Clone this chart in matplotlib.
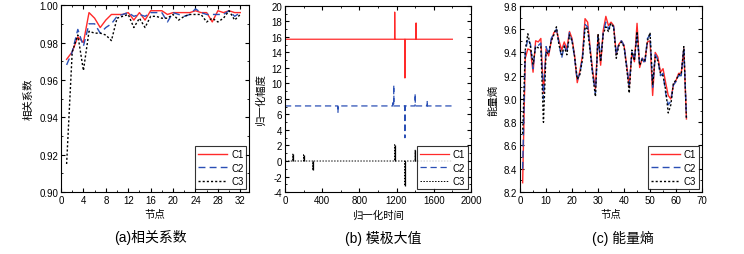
import numpy as np
import matplotlib
matplotlib.use("Agg")
import matplotlib.pyplot as plt
from matplotlib.ticker import MultipleLocator, AutoMinorLocator

plt.rcParams['font.family'] = ['Liberation Sans', 'Noto Sans CJK SC']
plt.rcParams['axes.unicode_minus'] = False

# (a) correlation coefficient per node
nodes_a = np.arange(1, 33)
corr_c1 = [0.971, 0.975, 0.983, 0.980, 0.996, 0.993, 0.988, 0.992, 0.995, 0.995, 0.995, 0.996,
           0.992, 0.996, 0.992, 0.997, 0.997, 0.997, 0.995, 0.996, 0.996, 0.996, 0.996, 0.997,
           0.996, 0.996, 0.991, 0.997, 0.996, 0.997, 0.996, 0.996]
corr_c2 = [0.968, 0.975, 0.987, 0.978, 0.990, 0.990, 0.985, 0.988, 0.990, 0.994, 0.995, 0.996,
           0.994, 0.995, 0.994, 0.996, 0.996, 0.996, 0.991, 0.996, 0.995, 0.994, 0.995, 0.998,
           0.996, 0.995, 0.995, 0.995, 0.995, 0.997, 0.994, 0.996]
corr_c3 = [0.915, 0.975, 0.984, 0.965, 0.986, 0.985, 0.985, 0.984, 0.981, 0.993, 0.994, 0.995,
           0.988, 0.993, 0.988, 0.994, 0.994, 0.993, 0.993, 0.995, 0.992, 0.994, 0.995, 0.995,
           0.995, 0.991, 0.993, 0.991, 0.993, 0.997, 0.992, 0.995]

# (b) modulus maxima: baseline level plus spikes (position, value)
t_end = 1800
c1_base = 15.7
c1_pos = [1180, 1290, 1410]
c1_val = [19.2, 10.7, 17.8]
c2_base = 7.1
c2_pos = [570, 1160, 1170, 1290, 1400, 1530]
c2_val = [6.2, 7.5, 9.8, 3.0, 8.7, 7.8]
c3_base = 0.0
c3_pos = [85, 200, 300, 1180, 1290, 1400]
c3_val = [0.9, 0.8, -1.2, 2.1, -3.2, 1.4]

# (c) energy entropy per node
nodes_c = np.arange(1, 65)
ent_c1 = [8.28, 9.35, 9.43, 9.42, 9.23, 9.50, 9.49, 9.52, 9.05, 9.43, 9.37, 9.50, 9.57, 9.59,
          9.50, 9.42, 9.49, 9.43, 9.58, 9.52, 9.37, 9.14, 9.24, 9.37, 9.69, 9.66, 9.43, 9.23,
          9.09, 9.55, 9.29, 9.59, 9.71, 9.63, 9.66, 9.63, 9.39, 9.47, 9.50, 9.46, 9.29, 9.10,
          9.40, 9.32, 9.65, 9.27, 9.35, 9.32, 9.49, 9.50, 9.03, 9.40, 9.36, 9.23, 9.26, 9.14,
          9.03, 9.00, 9.12, 9.16, 9.22, 9.22, 9.43, 8.83]
ent_c2 = [8.40, 9.40, 9.52, 9.47, 9.26, 9.47, 9.46, 9.48, 9.00, 9.45, 9.38, 9.52, 9.56, 9.60,
          9.47, 9.35, 9.46, 9.40, 9.57, 9.50, 9.35, 9.16, 9.22, 9.35, 9.64, 9.62, 9.42, 9.20,
          9.05, 9.53, 9.35, 9.57, 9.66, 9.60, 9.65, 9.62, 9.38, 9.48, 9.50, 9.46, 9.28, 9.12,
          9.40, 9.34, 9.55, 9.30, 9.35, 9.30, 9.52, 9.55, 9.10, 9.38, 9.34, 9.20, 9.22, 9.05,
          8.95, 8.98, 9.12, 9.15, 9.20, 9.20, 9.44, 8.84]
ent_c3 = [8.70, 9.42, 9.56, 9.45, 9.30, 9.45, 9.44, 9.45, 8.80, 9.40, 9.39, 9.50, 9.55, 9.62,
          9.46, 9.38, 9.45, 9.38, 9.55, 9.50, 9.36, 9.17, 9.21, 9.34, 9.62, 9.60, 9.40, 9.20,
          9.02, 9.56, 9.32, 9.56, 9.62, 9.58, 9.65, 9.62, 9.35, 9.46, 9.49, 9.45, 9.27, 9.05,
          9.42, 9.33, 9.58, 9.29, 9.34, 9.33, 9.50, 9.57, 9.12, 9.36, 9.33, 9.22, 9.20, 9.08,
          8.88, 8.95, 9.14, 9.16, 9.21, 9.21, 9.45, 8.82]


def spiky(base, pos, val):
    t = np.arange(0, t_end + 1)
    y = np.full(t.shape, base, dtype=float)
    y[pos] = val
    return t, y


def style_axes(ax):
    ax.tick_params(which='both', direction='in', top=True, right=True, labelsize=7, pad=2)
    ax.tick_params(which='major', length=3)
    ax.tick_params(which='minor', length=1.5)
    for s in ax.spines.values():
        s.set_linewidth(0.8)


def add_legend(ax):
    leg = ax.legend(loc='lower right', fontsize=7, frameon=True, fancybox=False,
                    edgecolor='black', handlelength=3.0, borderpad=0.3, labelspacing=0.35,
                    handletextpad=0.4, borderaxespad=0.3)
    leg.get_frame().set_linewidth(0.8)


fig = plt.figure(figsize=(7.44, 2.55), dpi=100)

ax1 = fig.add_axes([0.082, 0.243, 0.253, 0.733])
ax1.plot(nodes_a, corr_c1, color='#ff2a2a', lw=1.0, label='C1')
ax1.plot(nodes_a, corr_c2, color='#2a4fb5', lw=1.0, ls=(0, (5, 3)), label='C2')
ax1.plot(nodes_a, corr_c3, color='black', lw=1.0, ls=(0, (1.5, 1.5)), label='C3')
ax1.set_xlim(0, 33.6)
ax1.set_ylim(0.90, 1.00)
ax1.xaxis.set_major_locator(MultipleLocator(4))
ax1.yaxis.set_major_locator(MultipleLocator(0.02))
ax1.xaxis.set_minor_locator(AutoMinorLocator(2))
ax1.yaxis.set_minor_locator(AutoMinorLocator(2))
ax1.yaxis.set_major_formatter(matplotlib.ticker.FormatStrFormatter('%.2f'))
ax1.set_xlabel('节点', fontsize=7.5, labelpad=3)
ax1.set_ylabel('相关系数', fontsize=7.5, labelpad=4)
style_axes(ax1)
add_legend(ax1)

ax2 = fig.add_axes([0.383, 0.243, 0.250, 0.730])
t, y1 = spiky(c1_base, c1_pos, c1_val)
ax2.plot(t, y1, color='#ff2a2a', lw=0.9, label='C1')
t, y2 = spiky(c2_base, c2_pos, c2_val)
ax2.plot(t, y2, color='#2a4fb5', lw=0.9, ls=(0, (5, 3)), label='C2')
t, y3 = spiky(c3_base, c3_pos, c3_val)
ax2.plot(t, y3, color='black', lw=0.7, ls=(0, (1.5, 1.5)), label='C3')
ax2.vlines(c3_pos, c3_base, c3_val, colors='black', lw=0.9)
ax2.set_xlim(0, 2000)
ax2.set_ylim(-4, 20)
ax2.xaxis.set_major_locator(MultipleLocator(400))
ax2.yaxis.set_major_locator(MultipleLocator(2))
ax2.xaxis.set_minor_locator(AutoMinorLocator(2))
ax2.yaxis.set_minor_locator(AutoMinorLocator(2))
ax2.set_xlabel('归一化时间', fontsize=7.5, labelpad=3)
ax2.set_ylabel('归一化幅度', fontsize=7.5, labelpad=4)
style_axes(ax2)
add_legend(ax2)

ax3 = fig.add_axes([0.699, 0.243, 0.2446, 0.730])
ax3.plot(nodes_c, ent_c1, color='#ff2a2a', lw=1.0, label='C1')
ax3.plot(nodes_c, ent_c2, color='#2a4fb5', lw=1.0, ls=(0, (5, 3)), label='C2')
ax3.plot(nodes_c, ent_c3, color='black', lw=1.0, ls=(0, (1.5, 1.5)), label='C3')
ax3.set_xlim(0, 70)
ax3.set_ylim(8.2, 9.8)
ax3.xaxis.set_major_locator(MultipleLocator(10))
ax3.yaxis.set_major_locator(MultipleLocator(0.2))
ax3.xaxis.set_minor_locator(AutoMinorLocator(2))
ax3.yaxis.set_minor_locator(AutoMinorLocator(2))
ax3.yaxis.set_major_formatter(matplotlib.ticker.FormatStrFormatter('%.1f'))
ax3.set_xlabel('节点', fontsize=7.5, labelpad=3)
ax3.set_ylabel('能量熵', fontsize=7.5, labelpad=4)
style_axes(ax3)
add_legend(ax3)

fig.text(150 / 744, 1 - 238 / 255, '(a)相关系数', ha='center', va='center', fontsize=10)
fig.text(383 / 744, 1 - 238 / 255, '(b) 模极大值', ha='center', va='center', fontsize=10)
fig.text(623 / 744, 1 - 238 / 255, '(c) 能量熵', ha='center', va='center', fontsize=10)

fig.savefig('out.png', dpi=100)
